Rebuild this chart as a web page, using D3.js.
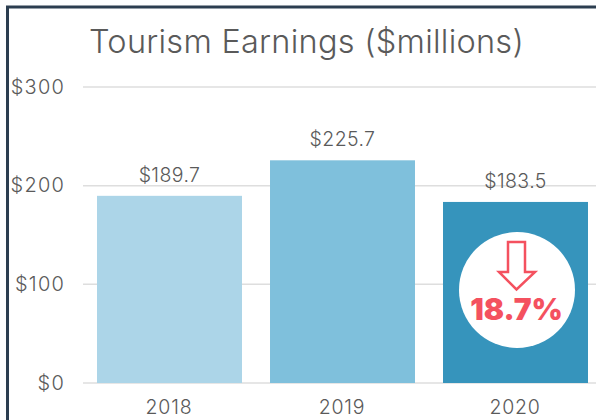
<!DOCTYPE html>
<html><head><meta charset="utf-8">
<script src="https://cdnjs.cloudflare.com/ajax/libs/d3/7.8.5/d3.min.js"></script>
<style>html,body{margin:0;padding:0;background:#fff}svg{display:block}text{font-family:Inter,"Open Sans",sans-serif}</style>
</head><body><div id="c"></div>
<script>
const years = ["2018","2019","2020"];
const earnings = [189.7,225.7,183.5];
const barColors = ["#acd5e8","#7fc0dc","#3694bc"];
const yTicks = [0,100,200,300];
const changeLabel = "18.7%";
const titleText = "Tourism Earnings ($millions)";

const W=596,H=420;
const svg=d3.select("#c").append("svg").attr("width",W).attr("height",H);
const x=d3.scaleBand().domain(years).range([83,602]).paddingInner(0.162).paddingOuter(0.081);
const y=d3.scaleLinear().domain([0,300]).range([383,87]);
const ink="#5a5a5a";

svg.append("g").selectAll("line").data(yTicks).join("line")
  .attr("x1",83).attr("x2",W).attr("y1",d=>y(d)).attr("y2",d=>y(d))
  .attr("stroke","#dedede").attr("stroke-width",1.5);
svg.append("g").selectAll("text").data(yTicks).join("text")
  .attr("x",65).attr("y",d=>y(d)+6.5).attr("text-anchor","end")
  .attr("font-size",20).attr("font-weight",300).attr("letter-spacing",1.2).attr("fill",ink).text(d=>"$"+d);

svg.append("g").selectAll("rect").data(earnings).join("rect")
  .attr("x",(d,i)=>x(years[i])).attr("width",x.bandwidth())
  .attr("y",d=>y(d)).attr("height",d=>y(0)-y(d))
  .attr("fill",(d,i)=>barColors[i]);

svg.append("g").selectAll("text").data(earnings).join("text")
  .attr("x",(d,i)=>x(years[i])+x.bandwidth()/2).attr("y",d=>y(d)-14)
  .attr("text-anchor","middle").attr("font-size",19.5).attr("font-weight",300).attr("letter-spacing",0.4).attr("fill",ink)
  .text(d=>"$"+d.toFixed(1));

svg.append("g").selectAll("text").data(years).join("text")
  .attr("x",d=>x(d)+x.bandwidth()/2-0.5).attr("y",414)
  .attr("text-anchor","middle").attr("font-size",19.5).attr("font-weight",300).attr("letter-spacing",0.8).attr("fill",ink).text(d=>d);

svg.append("text").attr("x",89).attr("y",53).attr("font-size",32.5).attr("font-weight",300).attr("letter-spacing",0.25).attr("fill",ink).text(titleText);

const cx=x("2020")+x.bandwidth()/2+1.5;
svg.append("circle").attr("cx",cx).attr("cy",290).attr("r",58).attr("fill","#fff");
svg.append("path")
  .attr("d",`M${cx-9},242 h17 v30 h10 l-18.5,17.5 l-17.5,-17.5 h9 z`)
  .attr("fill","#fff").attr("stroke","#f4515f").attr("stroke-width",2.5).attr("stroke-linejoin","miter");
svg.append("text").attr("x",cx-0.5).attr("y",320).attr("text-anchor","middle")
  .attr("font-size",30).attr("font-weight",900).attr("fill","#f4515f").text(changeLabel);

svg.append("path").attr("d",`M${W},7 H7.5 V${H}`).attr("fill","none").attr("stroke","#2c3e50").attr("stroke-width",3);
</script></body></html>
